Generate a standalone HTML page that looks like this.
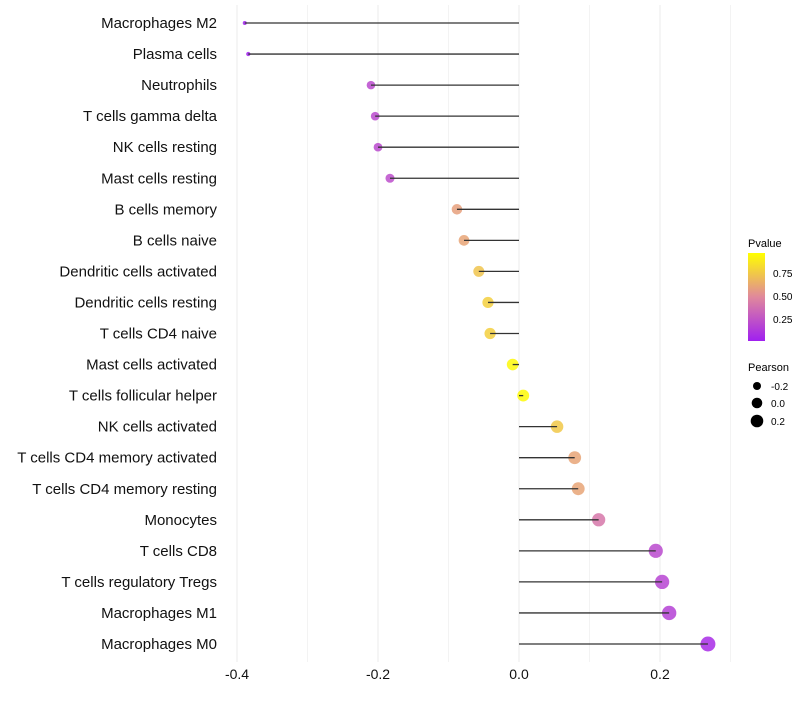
<!DOCTYPE html>
<html><head><meta charset="utf-8"><style>
body{margin:0;background:#fff;font-family:"Liberation Sans",sans-serif;}
</style></head><body>
<svg id="chart" width="800" height="700" xmlns="http://www.w3.org/2000/svg">
<defs><linearGradient id="pg" x1="0" y1="1" x2="0" y2="0">
<stop offset="0" stop-color="#a020f0"/><stop offset="0.5" stop-color="#e0889c"/><stop offset="1" stop-color="#ffff00"/></linearGradient></defs>
<g id="grid"></g><g id="marks"></g><g id="labels"></g>
<g font-size="10" fill="#000">
<text x="748" y="247" font-size="11">Pvalue</text>
<rect x="748" y="253" width="17" height="88" fill="url(#pg)"/>
<text x="773" y="277">0.75</text><text x="773" y="300">0.50</text><text x="773" y="323">0.25</text>
</g>
<g font-size="10">
<text x="748" y="371" font-size="11">Pearson</text>
<circle cx="757" cy="386" r="4"/><text x="771" y="390">-0.2</text>
<circle cx="757" cy="403" r="5.3"/><text x="771" y="407">0.0</text>
<circle cx="757" cy="421" r="6.3"/><text x="771" y="425">0.2</text>
</g>
</svg>
<script>
const categories=["Macrophages M2","Plasma cells","Neutrophils","T cells gamma delta","NK cells resting","Mast cells resting","B cells memory","B cells naive","Dendritic cells activated","Dendritic cells resting","T cells CD4 naive","Mast cells activated","T cells follicular helper","NK cells activated","T cells CD4 memory activated","T cells CD4 memory resting","Monocytes","T cells CD8","T cells regulatory  Tregs","Macrophages M1","Macrophages M0"];
const pearson=[-0.389,-0.384,-0.21,-0.204,-0.2,-0.183,-0.088,-0.078,-0.057,-0.044,-0.041,-0.009,0.006,0.054,0.079,0.084,0.113,0.194,0.203,0.213,0.268];
const pvalues=[0.01,0.01,0.2,0.2,0.2,0.22,0.6,0.62,0.75,0.8,0.8,0.97,0.98,0.77,0.62,0.62,0.42,0.2,0.18,0.16,0.06];
const xTicks=[-0.4,-0.2,0.0,0.2];
const xGrid=[-0.3,-0.1,0.1,0.3];
const NS="http://www.w3.org/2000/svg";
const xs=v=>519+v*705;
const ys=i=>23+i*31.05;
const rs=v=>Math.sqrt(Math.max(0,4+79*(v+0.39)));
function hex(h){return [1,3,5].map(k=>parseInt(h.substr(k,2),16));}
const stops=[[0,hex("#a020f0")],[0.5,hex("#e0889c")],[1,hex("#ffff00")]];
function col(p){let a=stops[0],b=stops[1];if(p>0.5){a=stops[1];b=stops[2];}
const t=(p-a[0])/(b[0]-a[0]);return "rgb("+a[1].map((c,k)=>Math.round(c+(b[1][k]-c)*t)).join(",")+")";}
function mk(t,at,parent){const e=document.createElementNS(NS,t);for(const k in at)e.setAttribute(k,at[k]);document.getElementById(parent).appendChild(e);return e;}
xGrid.forEach(v=>{const l=mk("line",{x1:xs(v),x2:xs(v),y1:5,y2:662,stroke:"#f3f3f3","stroke-width":1},"grid");

});
xTicks.forEach(v=>{const l=mk("line",{x1:xs(v),x2:xs(v),y1:5,y2:662,stroke:"#ebebeb","stroke-width":1},"grid");


const t=mk("text",{x:xs(v),y:679,"text-anchor":"middle","font-size":14,fill:"#111"},"labels");
t.textContent=(v===0?"0.0":String(v));

});
categories.forEach((c,i)=>{const y=ys(i);
const t=mk("text",{x:217,y:y+5,"text-anchor":"end","font-size":15,fill:"#111"},"labels");
t.textContent=c;


const d=mk("circle",{cx:xs(pearson[i]),cy:y,r:rs(pearson[i]),fill:col(pvalues[i]),"fill-opacity":0.85},"marks");


const s=mk("line",{x1:xs(0),x2:xs(pearson[i]),y1:y,y2:y,stroke:"#333","stroke-width":1.3},"marks");

});
</script>
</body></html>
